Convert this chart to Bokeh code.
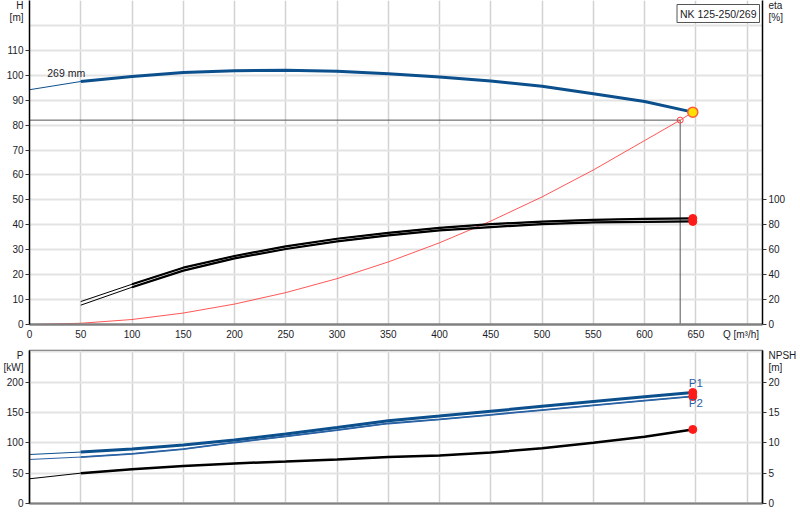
from bokeh.plotting import figure
from bokeh.models import Range1d, LinearAxis, FixedTicker, Label
from bokeh.layouts import column
from bokeh.embed import file_html
from bokeh.resources import INLINE

# ---------------- data ----------------
q_ticks = [0, 50, 100, 150, 200, 250, 300, 350, 400, 450, 500, 550, 600, 650, 694]
q_labels = {694: "Q [m³/h]"}
q_grid = [50, 100, 150, 200, 250, 300, 350, 400, 450, 500, 550, 600, 650, 700]
h_ticks = [0, 10, 20, 30, 40, 50, 60, 70, 80, 90, 100, 110]
h_grid = [10, 20, 30, 40, 50, 60, 70, 80, 90, 100, 110, 120]
h_title = {127.9: "H", 123.1: "[m]"}
eta_ticks = [0, 20, 40, 60, 80, 100]
eta_title = {255.8: "eta", 246.2: "[%]"}
p_ticks = [0, 50, 100, 150, 200]
p_grid = [50, 100, 150, 200, 250]
p_title = {243.3: "P", 223.6: "[kW]"}
npsh_ticks = [0, 5, 10, 15, 20]
npsh_title = {24.33: "NPSH", 22.36: "[m]"}

Q = [0, 50, 100, 150, 200, 250, 300, 350, 400, 450, 500, 550, 600, 647]
H = [94.2, 97.5, 99.5, 101.1, 101.8, 102.0, 101.6, 100.6, 99.3, 97.7, 95.6, 92.6, 89.5, 85.2]

Q_sys = [0, 50, 100, 150, 200, 250, 300, 350, 400, 450, 500, 550, 600, 634.7, 647]
H_sys = [0, 0.5, 2.0, 4.6, 8.2, 12.8, 18.4, 25.1, 32.8, 41.5, 51.2, 62.0, 73.8, 82.0, 85.2]

Q_eta = [50, 100, 150, 200, 250, 300, 350, 400, 450, 500, 550, 600, 647]
eta1 = [18.4, 32.3, 45.6, 55.0, 62.7, 68.8, 73.6, 77.6, 80.5, 82.6, 84.0, 84.8, 85.1]
eta2 = [15.5, 29.9, 43.2, 53.1, 60.6, 66.7, 71.5, 75.6, 78.2, 80.6, 81.9, 82.4, 82.7]

P1 = [80.7, 84.7, 89.6, 96.2, 104.4, 114.3, 125.2, 136.2, 144.0, 152.0, 160.0, 167.9, 175.8, 182.9]
P2 = [72.5, 76.5, 81.9, 89.6, 100.5, 110.4, 120.9, 131.8, 138.4, 146.1, 153.9, 161.7, 169.4, 176.3]
NPSH = [4.07, 5.0, 5.66, 6.16, 6.6, 6.92, 7.25, 7.64, 7.9, 8.4, 9.1, 10.0, 11.0, 12.2]

op_Q = 634.7
op_H = 82.0

title_text = "NK 125-250/269"
curve_label = "269 mm"

FONT = "Liberation Sans"
FS = "10px"
TXT = "#1c1c28"
BLUE = "#0b4f8c"
BLUE2 = "#2a62a4"
GRID_H = "#e3e3e3"
GRID_V = "#d2d2d2"

W = 800
MB_L = 29
MB_R = 38


def style_common(p):
    p.background_fill_color = "white"
    p.border_fill_color = "white"
    p.xgrid.ticker = FixedTicker(ticks=q_grid)
    p.xgrid.grid_line_color = GRID_V
    p.xgrid.grid_line_width = 1.5
    p.ygrid.grid_line_color = GRID_H
    p.ygrid.grid_line_width = 2
    for ax in p.axis:
        ax.major_label_text_font = FONT
        ax.major_label_text_font_size = FS
        ax.major_label_text_color = TXT


def style_y(ax, ticks, titles):
    # numeric ticks get tick marks (drawn as minor ticks); unit titles are labels only
    ax.ticker = FixedTicker(ticks=ticks + list(titles.keys()), minor_ticks=ticks)
    ax.major_label_overrides = titles
    ax.axis_line_color = "black"
    ax.axis_line_width = 1.5
    ax.major_tick_line_color = None
    ax.major_tick_out = 4
    ax.major_tick_in = 0
    ax.minor_tick_line_color = "#333333"
    ax.minor_tick_out = 4
    ax.minor_tick_in = 0
    ax.major_label_standoff = 2


def lbl(p, x, y, text, size=FS, color=TXT, align="center", baseline="middle", **kw):
    p.add_layout(Label(x=x, y=y, text=text, text_font=FONT, text_font_size=size,
                       text_color=color, text_align=align, text_baseline=baseline, **kw))


# ---------------- top chart (H / eta) ----------------
p = figure(width=W, height=342, x_range=Range1d(0, 715), y_range=Range1d(0, 130),
           output_backend="svg", toolbar_location=None,
           min_border_left=MB_L, min_border_right=MB_R, min_border_top=0, min_border_bottom=17)
p.outline_line_color = None
p.extra_y_ranges = {"eta": Range1d(0, 260)}
p.add_layout(LinearAxis(y_range_name="eta"), "right")
p.ygrid.ticker = FixedTicker(ticks=h_grid)
p.xaxis.ticker = FixedTicker(ticks=q_ticks)
p.xaxis.major_label_overrides = q_labels
style_common(p)
style_y(p.yaxis[0], h_ticks, h_title)
style_y(p.yaxis[1], eta_ticks, eta_title)
p.xaxis.axis_line_color = "#808080"
p.xaxis.axis_line_width = 2.5
p.xaxis.major_tick_line_color = None
p.xaxis.minor_tick_line_color = None
p.xaxis.major_tick_out = 0
p.xaxis.major_label_standoff = 4

# operating point lines
p.line([0, op_Q], [op_H, op_H], line_color="#555555", line_width=1)
p.line([op_Q, op_Q], [op_H, 0], line_color="#555555", line_width=1)

# system curve
p.line(Q_sys, H_sys, line_color="#ff3a3a", line_width=1, line_alpha=0.85)

# efficiency curves (double black lines)
p.line(Q_eta, eta1, y_range_name="eta", line_color="black", line_width=1)
p.line(Q_eta, eta2, y_range_name="eta", line_color="black", line_width=1)
p.line(Q_eta[1:], eta1[1:], y_range_name="eta", line_color="black", line_width=2.2)
p.line(Q_eta[1:], eta2[1:], y_range_name="eta", line_color="black", line_width=2.2)
p.scatter([Q_eta[-1], Q_eta[-1]], [eta1[-1], eta2[-1]], y_range_name="eta", size=8,
          fill_color="#ff1a1a", line_color="#ff1a1a")

# H curve
p.line(Q, H, line_color=BLUE, line_width=1)
p.line(Q[1:], H[1:], line_color=BLUE, line_width=3)
p.scatter([op_Q], [op_H], size=6, fill_color=None, line_color="#ff4040", line_width=1)
p.scatter([Q[-1]], [H[-1]], size=10, fill_color="#ffe000", line_color="#ff5a3a", line_width=1.5)

lbl(p, 17.3, 100.8, curve_label, size="10.5px", align="left")
p.add_layout(Label(x=715, y=130, x_offset=-3, y_offset=-4, text=title_text, text_font=FONT,
                   text_font_size="10.5px", text_color=TXT, text_align="right",
                   text_baseline="top", border_line_color="#555555", border_line_width=1,
                   background_fill_color="white", padding=3))

# ---------------- bottom chart (P / NPSH) ----------------
p2 = figure(width=W, height=166, x_range=p.x_range, y_range=Range1d(0, 252),
            output_backend="svg", toolbar_location=None,
            min_border_left=MB_L, min_border_right=MB_R, min_border_top=8, min_border_bottom=5)
p2.outline_line_color = "#707070"
p2.outline_line_width = 1.5
p2.extra_y_ranges = {"npsh": Range1d(0, 25.2)}
p2.add_layout(LinearAxis(y_range_name="npsh"), "right")
p2.ygrid.ticker = FixedTicker(ticks=p_grid)
p2.xaxis.ticker = FixedTicker(ticks=[])
style_common(p2)
style_y(p2.yaxis[0], p_ticks, p_title)
style_y(p2.yaxis[1], npsh_ticks, npsh_title)
p2.xaxis.axis_line_color = "#808080"
p2.xaxis.axis_line_width = 2
p2.xaxis.major_tick_line_color = None
p2.xaxis.minor_tick_line_color = None
p2.xaxis.major_tick_out = 0
p2.xaxis.major_label_standoff = 0

p2.line(Q, NPSH, y_range_name="npsh", line_color="black", line_width=1)
p2.line(Q[1:], NPSH[1:], y_range_name="npsh", line_color="black", line_width=2.5)
p2.line(Q, P2, line_color=BLUE2, line_width=1)
p2.line(Q[1:], P2[1:], line_color=BLUE2, line_width=1.8)
p2.line(Q, P1, line_color=BLUE, line_width=1)
p2.line(Q[1:], P1[1:], line_color=BLUE, line_width=3)
p2.scatter([Q[-1], Q[-1]], [P1[-1], P2[-1]], size=8, fill_color="#ff1a1a", line_color="#ff1a1a")
p2.scatter([Q[-1]], [NPSH[-1]], y_range_name="npsh", size=8, fill_color="#ff1a1a",
           line_color="#ff1a1a")

lbl(p2, 650, 197.7, "P1", size="11.5px", color=BLUE2)
lbl(p2, 650, 165.5, "P2", size="11.5px", color=BLUE2)

layout = column(p, p2, spacing=0)

open("out.html", "w").write(file_html(layout, INLINE))
